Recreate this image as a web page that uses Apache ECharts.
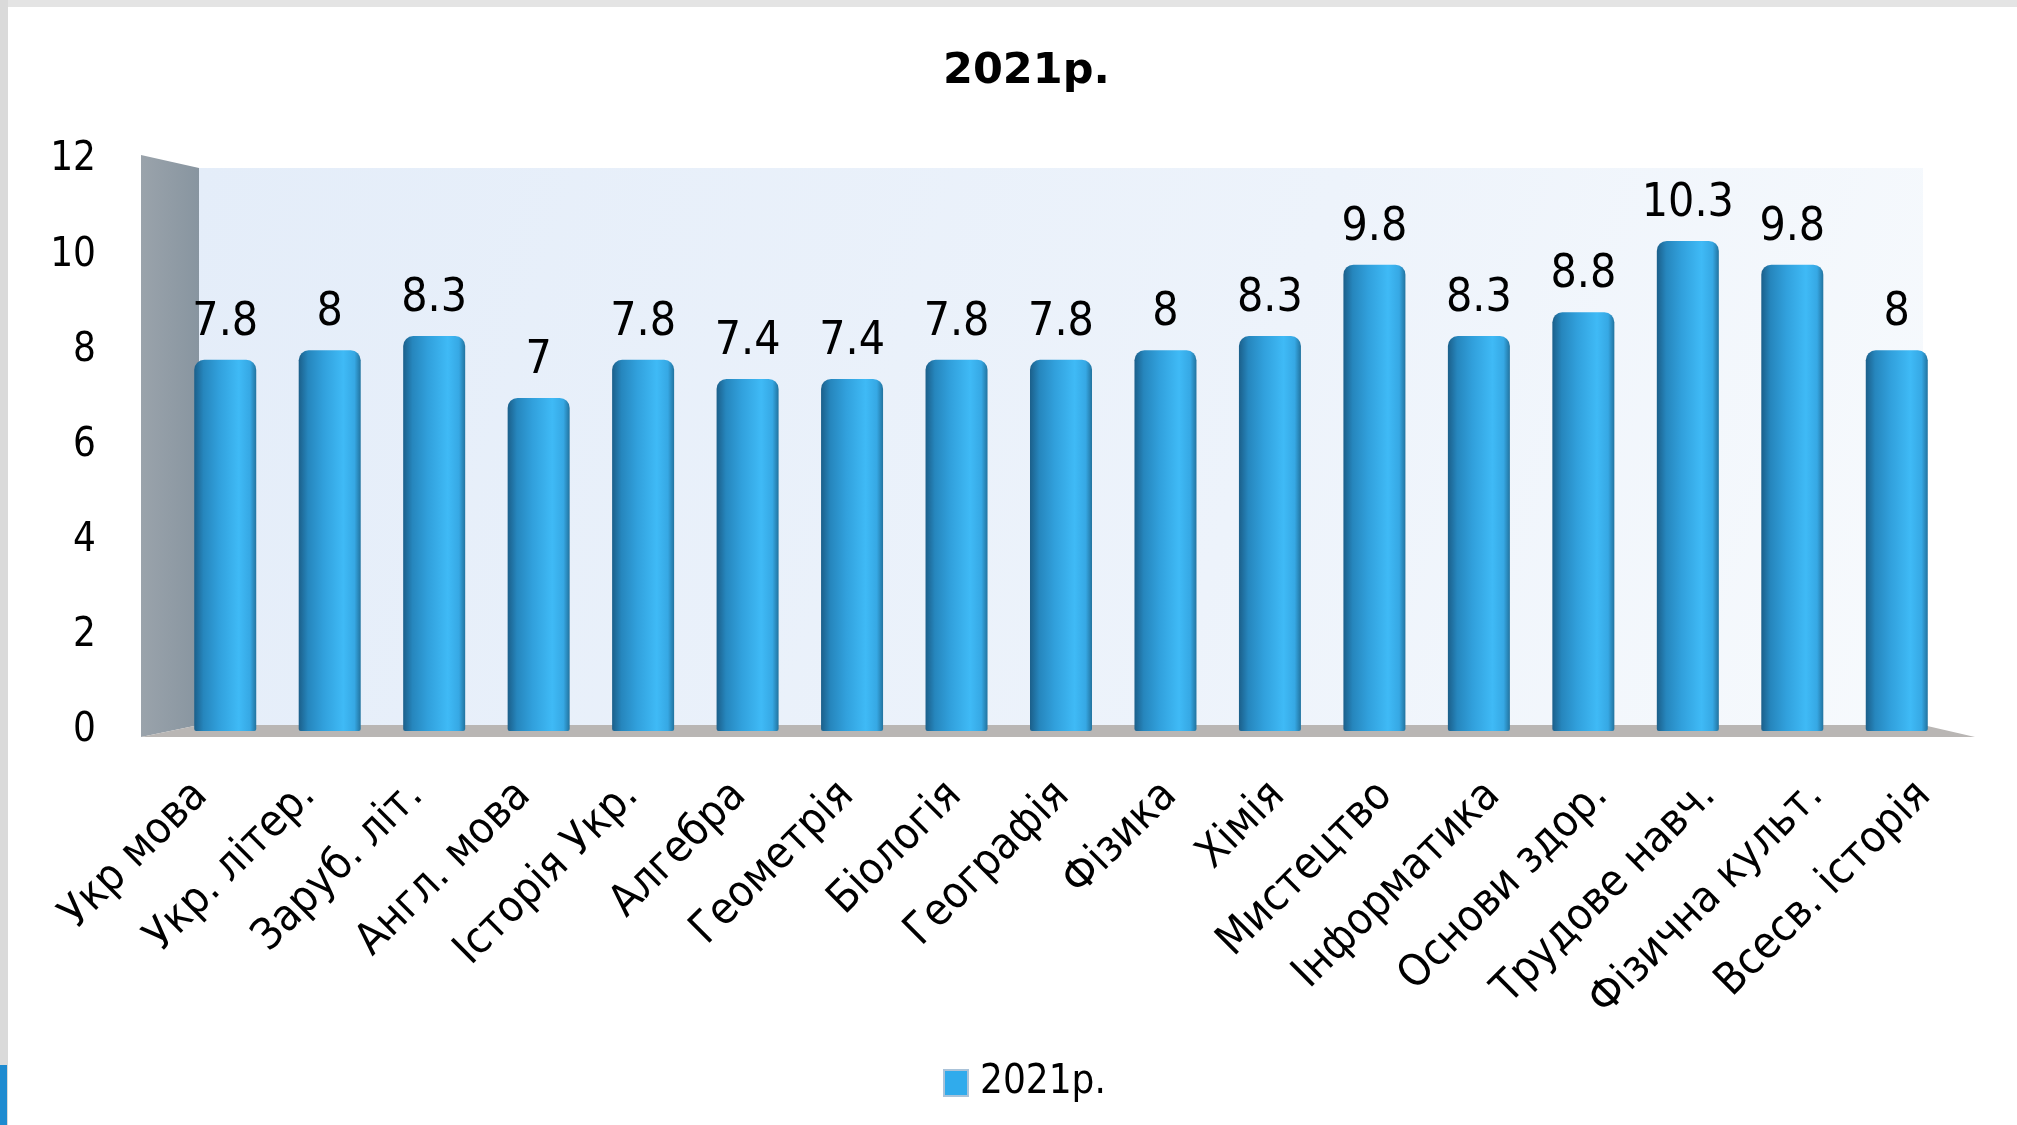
<!DOCTYPE html>
<html>
<head>
<meta charset="utf-8">
<script src="https://cdn.jsdelivr.net/npm/echarts@6/dist/echarts.min.js"></script>
<style>
  html, body { margin: 0; padding: 0; background: #fff; }
  #chart { width: 2017px; height: 1125px; }
</style>
</head>
<body>
<div id="chart"></div>
<script>
// дані діаграми
const seriesName = '2021р.'
const subjects = [
  'Укр мова', 'Укр. літер.', 'Заруб. літ.', 'Англ. мова', 'Історія Укр.',
  'Алгебра', 'Геометрія', 'Біологія', 'Географія', 'Фізика', 'Хімія',
  'Мистецтво', 'Інформатика', 'Основи здор.', 'Трудове навч.',
  'Фізична культ.', 'Всесв. історія'
]
const scores = [7.8, 8, 8.3, 7, 7.8, 7.4, 7.4, 7.8, 7.8, 8, 8.3, 9.8, 8.3, 8.8, 10.3, 9.8, 8]
const yMin = 0
const yMax = 12
const yStep = 2

const FONT = '"Liberation Sans Narrow", "DejaVu Sans Condensed", "Noto Sans", sans-serif'

// розміри сітки
const grid = { left: 173, right: 68, top: 160, bottom: 394 }
// передній край підлоги ширший (перспектива) — підписи категорій
const labelGrid = { left: 171, right: 15, top: 160, bottom: 394 }
const W = 2017
const H = 1125

const chart = echarts.init(document.getElementById('chart'))

const barGradient = new echarts.graphic.LinearGradient(0, 0, 1, 0, [
  { offset: 0, color: '#1b5f8a' },
  { offset: 0.15, color: '#2686bd' },
  { offset: 0.4, color: '#31a0dc' },
  { offset: 0.72, color: '#3fbaf6' },
  { offset: 0.9, color: '#36a8e4' },
  { offset: 1, color: '#22739f' }
])

// декоративні стіни псевдо-3D
const gx0 = grid.left
const gx1 = W - grid.right
const gy0 = grid.top
const gy1 = H - grid.bottom

const decor = [
  // рамка слайду
  { type: 'rect', shape: { x: 0, y: 0, width: W, height: 7 }, style: { fill: '#e4e4e4' }, z: -10 },
  { type: 'rect', shape: { x: 0, y: 0, width: 8, height: H }, style: { fill: '#dadada' }, z: -10 },
  { type: 'rect', shape: { x: 0, y: 1065, width: 7, height: 60 }, style: { fill: '#1e8bd0' }, z: -9 },
  // задня стінка
  {
    type: 'rect',
    shape: { x: gx0 + 26, y: gy0 + 8, width: gx1 - gx0 - 52, height: gy1 - gy0 - 14 },
    style: {
      fill: new echarts.graphic.LinearGradient(0, 0, 1, 1, [
        { offset: 0, color: '#e4edf9' },
        { offset: 0.6, color: '#edf3fb' },
        { offset: 1, color: '#f7fafd' }
      ])
    },
    z: -5
  },
  // бокова стінка
  {
    type: 'polygon',
    shape: { points: [[gx0 - 32, gy0 - 5], [gx0 + 26, gy0 + 8], [gx0 + 26, gy1 - 6], [gx0 - 32, gy1 + 6]] },
    style: {
      fill: new echarts.graphic.LinearGradient(0, 0, 1, 0, [
        { offset: 0, color: '#9aa3ab' },
        { offset: 1, color: '#8895a0' }
      ])
    },
    z: -4
  },
  // підлога
  {
    type: 'polygon',
    shape: { points: [[gx0 + 26, gy1 - 6], [gx1 - 26, gy1 - 6], [gx1 + 26, gy1 + 6], [gx0 - 32, gy1 + 6]] },
    style: { fill: '#b9b6b4' },
    z: -4
  }
]

chart.setOption({
  animation: false,
  backgroundColor: '#ffffff',
  textStyle: { fontFamily: FONT },
  title: {
    text: seriesName,
    left: 938,
    top: 45,
    textStyle: { fontFamily: '"DejaVu Sans", sans-serif', fontWeight: 'bold', fontSize: 43, color: '#000' }
  },
  legend: {
    data: [seriesName],
    left: 938,
    top: 1058,
    icon: 'rect',
    itemWidth: 24,
    itemHeight: 26,
    itemGap: 10,
    itemStyle: { color: '#30abec', borderColor: '#aac3d9', borderWidth: 2 },
    textStyle: { fontFamily: FONT, fontSize: 40, color: '#000', padding: [0, 0, 0, 7] }
  },
  grid: [
    { left: grid.left, right: grid.right, top: grid.top, bottom: grid.bottom },
    { left: labelGrid.left, right: labelGrid.right, top: labelGrid.top, bottom: labelGrid.bottom }
  ],
  graphic: decor,
  xAxis: [
    {
      type: 'category',
      gridIndex: 0,
      data: subjects,
      axisLine: { show: false },
      axisTick: { show: false },
      axisLabel: { show: false }
    },
    {
      type: 'category',
      gridIndex: 1,
      data: subjects,
      axisLine: { show: false },
      axisTick: { show: false },
      axisLabel: {
        rotate: 45,
        interval: 0,
        margin: 34,
        padding: [0, 34, 0, 0],
        fontFamily: FONT,
        fontSize: 44,
        color: '#000'
      }
    }
  ],
  yAxis: [
    {
      type: 'value',
      gridIndex: 0,
      min: yMin,
      max: yMax,
      interval: yStep,
      axisLine: { show: false },
      axisTick: { show: false },
      splitLine: { show: false },
      axisLabel: {
        margin: 77,
        fontFamily: FONT,
        fontSize: 40,
        color: '#000'
      }
    },
    {
      type: 'value',
      gridIndex: 1,
      min: yMin,
      max: yMax,
      interval: yStep,
      show: false
    }
  ],
  series: [
    {
      name: seriesName,
      type: 'bar',
      xAxisIndex: 0,
      yAxisIndex: 0,
      data: scores,
      barWidth: 62,
      itemStyle: {
        color: barGradient,
        borderRadius: [10, 10, 2, 2]
      },
      label: {
        show: true,
        position: 'top',
        distance: 14,
        fontFamily: FONT,
        fontSize: 46,
        color: '#000'
      }
    }
  ]
})
</script>
</body>
</html>
